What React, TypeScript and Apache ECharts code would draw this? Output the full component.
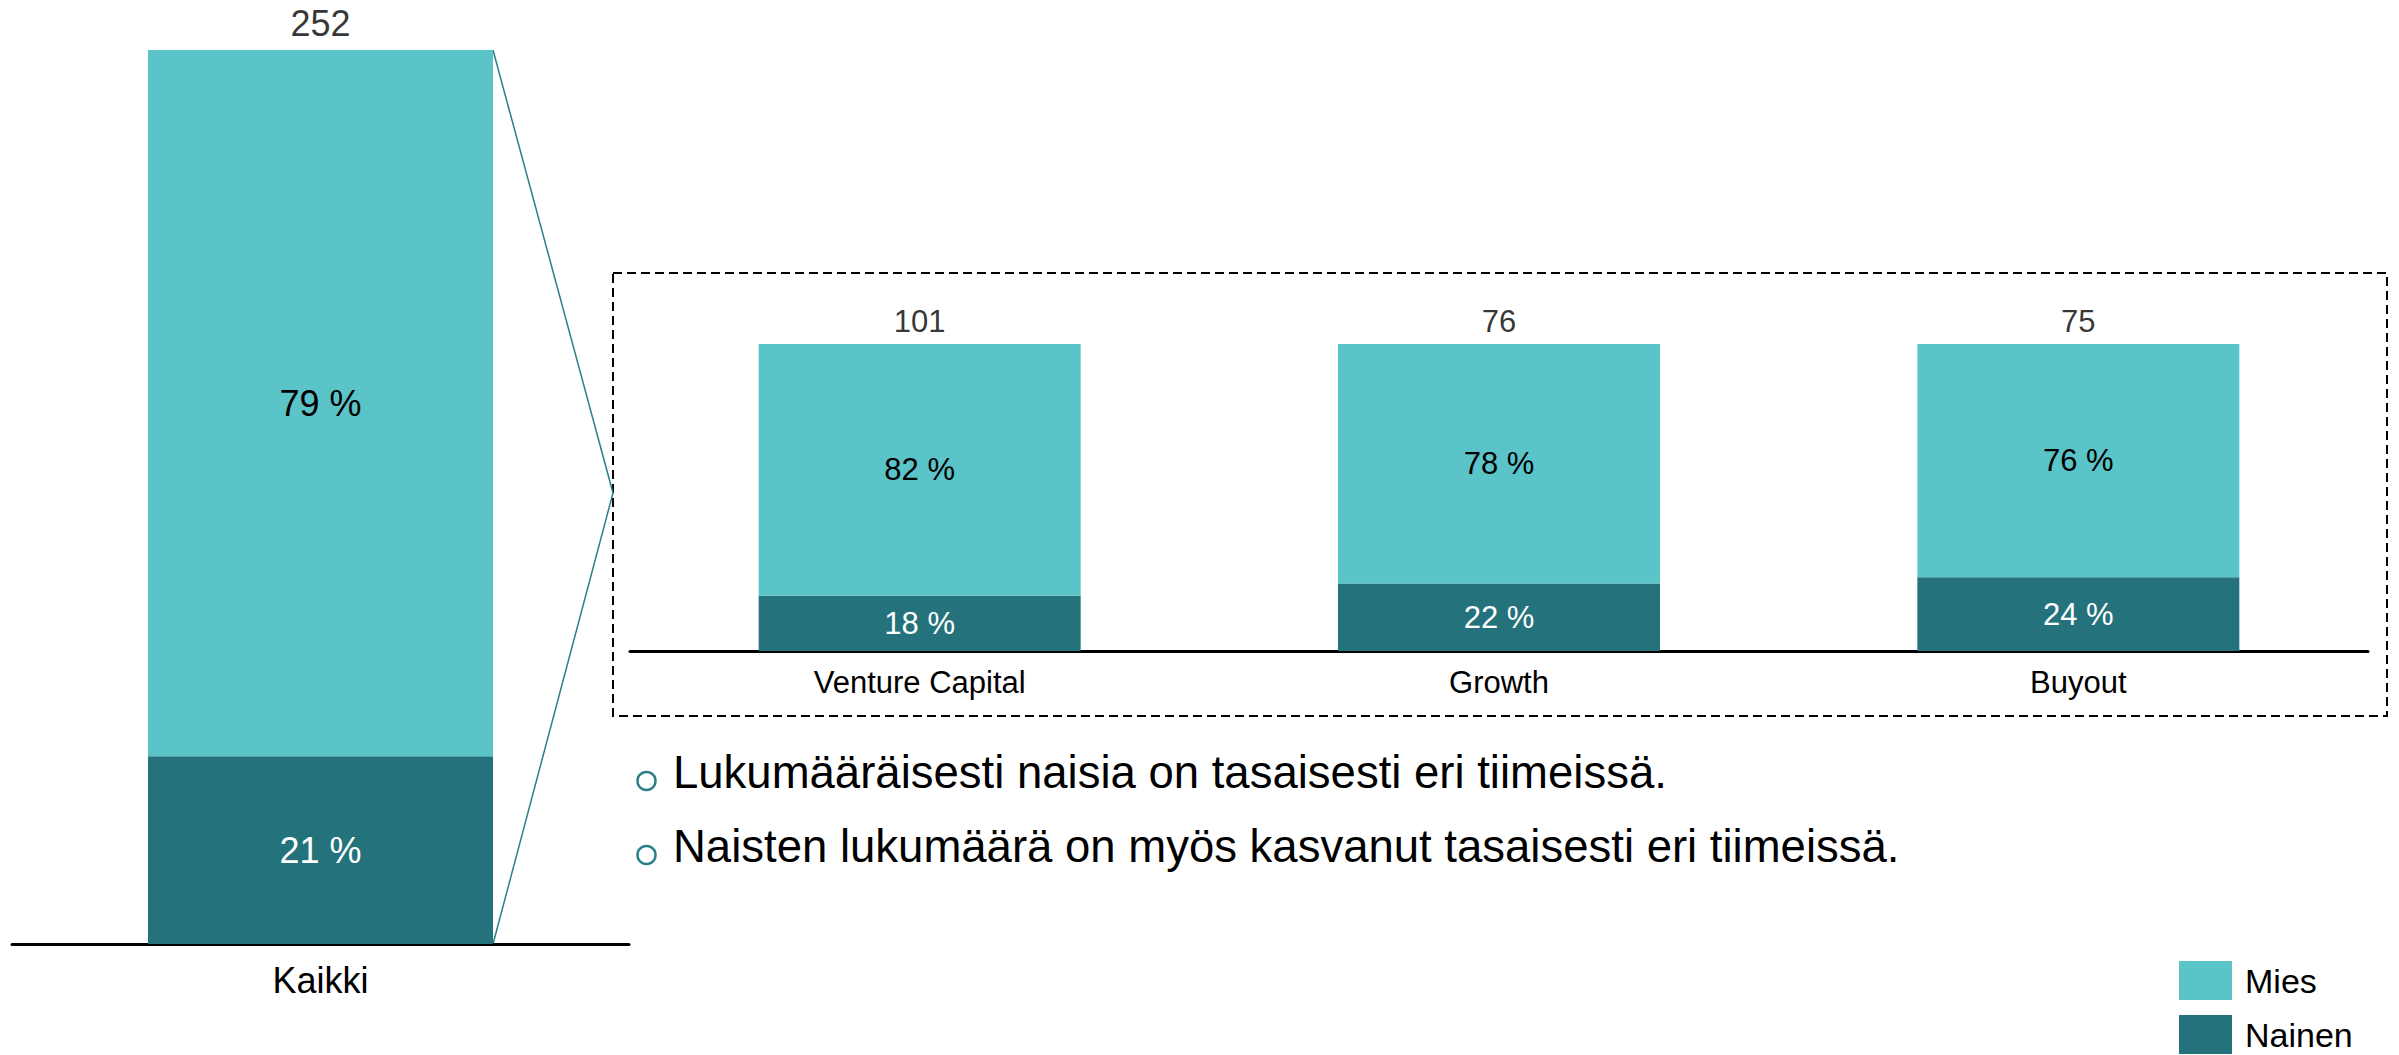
import React, { useEffect, useRef } from "react";
import * as echarts from "echarts";

// ---- Data ----
const overallCategories = ["Kaikki"];
const overallMies = [79];
const overallNainen = [21];
const overallTotals = [252];

const teamCategories = ["Venture Capital", "Growth", "Buyout"];
const teamMies = [82, 78, 76];
const teamNainen = [18, 22, 24];
const teamTotals = [101, 76, 75];

const seriesNames = ["Mies", "Nainen"];
const bulletTexts = [
  "Lukumääräisesti naisia on tasaisesti eri tiimeissä.",
  "Naisten lukumäärä on myös kasvanut tasaisesti eri tiimeissä.",
];

// ---- Styles ----
const LIGHT = "#5BC4C9";
const DARK = "#24727C";
const LINE_TEAL = "#2B7F87";
const FONT = "'Liberation Sans', Arial, Helvetica, sans-serif";

export default function App() {
  const ref = useRef<HTMLDivElement>(null);

  useEffect(() => {
    document.body.style.margin = "0";
    if (!ref.current) return;
    const chart = echarts.init(ref.current, null, { renderer: "svg" });

    const pctFmt = (p: any) => `${p.value} %`;

    const option: any = {
      animation: false,
      tooltip: { show: false },
      legend: {
        data: seriesNames,
        orient: "vertical",
        left: 2179,
        top: 961,
        height: 94,
        itemWidth: 53,
        itemHeight: 39,
        itemGap: 15,
        padding: 0,
        icon: "rect",
        selectedMode: false,
        textStyle: { fontSize: 34, color: "#000", fontFamily: FONT, padding: [0, 0, 0, 8] },
      },
      grid: [
        { left: 12, width: 617, top: 50, height: 894 },
        { left: 630, width: 1738, top: 344, height: 307 },
      ],
      xAxis: [
        {
          type: "category",
          gridIndex: 0,
          data: overallCategories,
          axisLine: { lineStyle: { color: "#000", width: 3 } },
          axisTick: { show: false },
          axisLabel: { fontSize: 36, color: "#000", fontFamily: FONT, margin: 18 },
        },
        {
          type: "category",
          gridIndex: 1,
          data: teamCategories,
          axisLine: { lineStyle: { color: "#000", width: 3 } },
          axisTick: { show: false },
          axisLabel: { fontSize: 31, color: "#000", fontFamily: FONT, margin: 16 },
        },
      ],
      yAxis: [
        { type: "value", gridIndex: 0, min: 0, max: 100, show: false, splitLine: { show: false } },
        { type: "value", gridIndex: 1, min: 0, max: 100, show: false, splitLine: { show: false } },
      ],
      series: [
        {
          name: "Nainen",
          type: "bar",
          xAxisIndex: 0,
          yAxisIndex: 0,
          stack: "overall",
          barWidth: 345,
          data: overallNainen,
          itemStyle: { color: DARK },
          label: { show: true, position: "inside", formatter: pctFmt, color: "#fff", fontSize: 36, fontFamily: FONT },
        },
        {
          name: "Mies",
          type: "bar",
          xAxisIndex: 0,
          yAxisIndex: 0,
          stack: "overall",
          barWidth: 345,
          data: overallMies,
          itemStyle: { color: LIGHT },
          label: { show: true, position: "inside", formatter: pctFmt, color: "#000", fontSize: 36, fontFamily: FONT },
        },
        {
          name: "totalOverall",
          type: "scatter",
          xAxisIndex: 0,
          yAxisIndex: 0,
          symbol: "rect",
          symbolSize: 1,
          itemStyle: { color: "rgba(0,0,0,0)" },
          data: overallMies.map((m, i) => m + overallNainen[i]),
          label: {
            show: true,
            position: "top",
            distance: 8,
            formatter: (p: any) => String(overallTotals[p.dataIndex]),
            color: "#000",
            fontSize: 36,
            fontFamily: FONT,
          },
        },
        {
          name: "Nainen",
          type: "bar",
          xAxisIndex: 1,
          yAxisIndex: 1,
          stack: "team",
          barWidth: 322,
          data: teamNainen,
          itemStyle: { color: DARK },
          label: { show: true, position: "inside", formatter: pctFmt, color: "#fff", fontSize: 31, fontFamily: FONT },
        },
        {
          name: "Mies",
          type: "bar",
          xAxisIndex: 1,
          yAxisIndex: 1,
          stack: "team",
          barWidth: 322,
          data: teamMies,
          itemStyle: { color: LIGHT },
          label: { show: true, position: "inside", formatter: pctFmt, color: "#000", fontSize: 31, fontFamily: FONT },
        },
        {
          name: "totalTeam",
          type: "scatter",
          xAxisIndex: 1,
          yAxisIndex: 1,
          symbol: "rect",
          symbolSize: 1,
          itemStyle: { color: "rgba(0,0,0,0)" },
          data: teamMies.map((m, i) => m + teamNainen[i]),
          label: {
            show: true,
            position: "top",
            distance: 7,
            formatter: (p: any) => String(teamTotals[p.dataIndex]),
            color: "#000",
            fontSize: 31,
            fontFamily: FONT,
          },
        },
      ],
    };

    chart.setOption(option);

    // Connector lines computed from the axes
    const topPt = chart.convertToPixel({ xAxisIndex: 0, yAxisIndex: 0 } as any, [0, 100]) as number[];
    const botPt = chart.convertToPixel({ xAxisIndex: 0, yAxisIndex: 0 } as any, [0, 0]) as number[];
    const barRight = topPt[0] + 345 / 2;

    const box = { x: 613, y: 273, w: 1774, h: 443 };
    const apex = [box.x, 493];

    const graphics: any[] = [
      {
        type: "rect",
        shape: { x: box.x, y: box.y, width: box.w, height: box.h },
        style: { fill: "none", stroke: "#000", lineWidth: 2, lineDash: [9, 5] },
        silent: true,
      },
      {
        type: "line",
        shape: { x1: barRight, y1: topPt[1], x2: apex[0], y2: apex[1] },
        style: { stroke: LINE_TEAL, lineWidth: 1.5 },
        silent: true,
      },
      {
        type: "line",
        shape: { x1: barRight, y1: botPt[1], x2: apex[0], y2: apex[1] },
        style: { stroke: LINE_TEAL, lineWidth: 1.5 },
        silent: true,
      },
    ];

    const bulletYs = [772, 846];
    bulletTexts.forEach((t, i) => {
      graphics.push({
        type: "circle",
        shape: { cx: 646.5, cy: bulletYs[i] + 9, r: 9 },
        style: { fill: "none", stroke: LINE_TEAL, lineWidth: 2.5 },
        silent: true,
      });
      graphics.push({
        type: "text",
        x: 673,
        y: bulletYs[i],
        style: {
          text: t,
          fontSize: 45.5,
          fontFamily: FONT,
          fill: "#000",
          verticalAlign: "middle",
        },
        silent: true,
      });
    });

    chart.setOption({ graphic: graphics });

    return () => chart.dispose();
  }, []);

  return (
    <div
      ref={ref}
      style={{ position: "absolute", left: 0, top: 0, width: 2399, height: 1055 }}
    />
  );
}
